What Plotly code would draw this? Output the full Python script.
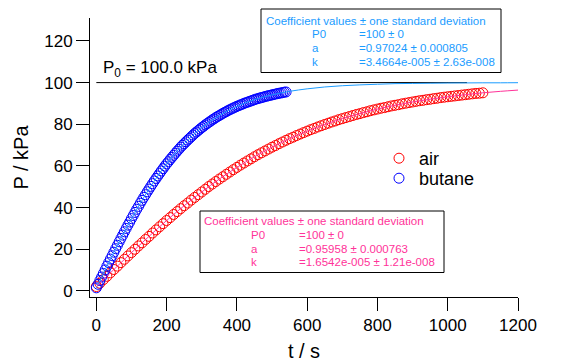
import plotly.graph_objects as go

# ---------------- data ----------------
air_t = [0, 10, 20, 30, 40, 50, 60, 70, 80, 90, 100, 110, 120, 130, 140, 150, 160, 170, 180, 190,
         200, 210, 220, 230, 240, 250, 260, 270, 280, 290, 300, 310, 320, 330, 340, 350, 360, 370, 380, 390,
         400, 410, 420, 430, 440, 450, 460, 470, 480, 490, 500, 510, 520, 530, 540, 550, 560, 570, 580, 590,
         600, 610, 620, 630, 640, 650, 660, 670, 680, 690, 700, 710, 720, 730, 740, 750, 760, 770, 780, 790,
         800, 810, 820, 830, 840, 850, 860, 870, 880, 890, 900, 910, 920, 930, 940, 950, 960, 970, 980, 990,
         1000, 1010, 1020, 1030, 1040, 1050, 1060, 1070, 1080, 1090, 1100]
air_p = [2.1, 3.7, 5.4, 7.0, 8.7, 10.3, 11.9, 13.6, 15.2, 16.8,
         18.4, 20.0, 21.6, 23.1, 24.7, 26.2, 27.8, 29.3, 30.8, 32.3,
         33.8, 35.2, 36.7, 38.1, 39.5, 40.9, 42.2, 43.6, 44.9, 46.2,
         47.5, 48.8, 50.1, 51.3, 52.5, 53.7, 54.8, 56.0, 57.1, 58.2,
         59.3, 60.4, 61.4, 62.4, 63.4, 64.4, 65.4, 66.3, 67.2, 68.1,
         69.0, 69.8, 70.7, 71.5, 72.3, 73.1, 73.8, 74.6, 75.3, 76.0,
         76.7, 77.4, 78.0, 78.7, 79.3, 79.9, 80.5, 81.1, 81.6, 82.2,
         82.7, 83.2, 83.7, 84.2, 84.7, 85.1, 85.6, 86.0, 86.5, 86.9,
         87.3, 87.7, 88.0, 88.4, 88.8, 89.1, 89.4, 89.8, 90.1, 90.4,
         90.7, 91.0, 91.3, 91.5, 91.8, 92.0, 92.3, 92.5, 92.8, 93.0,
         93.2, 93.4, 93.6, 93.8, 94.0, 94.2, 94.4, 94.6, 94.8, 94.9, 95.1]

butane_t = [0, 5, 10, 15, 20, 25, 30, 35, 40, 45, 50, 55, 60, 65, 70, 75, 80, 85, 90, 95,
            100, 105, 110, 115, 120, 125, 130, 135, 140, 145, 150, 155, 160, 165, 170, 175, 180, 185, 190, 195,
            200, 205, 210, 215, 220, 225, 230, 235, 240, 245, 250, 255, 260, 265, 270, 275, 280, 285, 290, 295,
            300, 305, 310, 315, 320, 325, 330, 335, 340, 345, 350, 355, 360, 365, 370, 375, 380, 385, 390, 395,
            400, 405, 410, 415, 420, 425, 430, 435, 440, 445, 450, 455, 460, 465, 470, 475, 480, 485, 490, 495,
            500, 505, 510, 515, 520, 525, 530, 535, 540]
butane_p = [1.5, 3.2, 5.0, 6.7, 8.4, 10.1, 11.9, 13.6, 15.3, 16.9,
            18.6, 20.3, 21.9, 23.6, 25.2, 26.8, 28.4, 30.0, 31.6, 33.1,
            34.7, 36.2, 37.7, 39.2, 40.6, 42.1, 43.5, 44.9, 46.2, 47.6,
            48.9, 50.2, 51.5, 52.8, 54.0, 55.2, 56.4, 57.6, 58.7, 59.9,
            61.0, 62.0, 63.1, 64.1, 65.1, 66.1, 67.1, 68.0, 69.0, 69.9,
            70.7, 71.6, 72.4, 73.2, 74.0, 74.8, 75.6, 76.3, 77.0, 77.7,
            78.4, 79.0, 79.7, 80.3, 80.9, 81.5, 82.1, 82.6, 83.2, 83.7,
            84.2, 84.7, 85.2, 85.7, 86.1, 86.6, 87.0, 87.4, 87.8, 88.2,
            88.6, 88.9, 89.3, 89.6, 90.0, 90.3, 90.6, 90.9, 91.2, 91.5,
            91.8, 92.1, 92.3, 92.6, 92.8, 93.0, 93.3, 93.5, 93.7, 93.9,
            94.1, 94.3, 94.5, 94.7, 94.9, 95.0, 95.2, 95.4, 95.5]

fit_t = [0, 50, 100, 150, 200, 250, 300, 350, 400, 450, 500, 550, 600,
         650, 700, 750, 800, 850, 900, 950, 1000, 1050, 1100, 1150, 1200]
butane_fit = [1.5, 18.6, 34.7, 48.9, 61.0, 70.7, 78.4, 84.2, 88.6, 91.8, 94.1, 95.8, 97.0,
              97.9, 98.5, 98.9, 99.2, 99.5, 99.6, 99.7, 99.8, 99.85, 99.9, 99.9, 99.95]
air_fit = [2.1, 10.3, 18.4, 26.2, 33.8, 40.9, 47.5, 53.7, 59.3, 64.4, 69.0, 73.1, 76.7,
           79.9, 82.7, 85.1, 87.3, 89.1, 90.7, 92.0, 93.2, 94.2, 95.1, 95.8, 96.4]

p0_line_t = [0, 1055]
p0_line_p = [100, 100]

x_ticks = [0, 200, 400, 600, 800, 1000, 1200]
y_ticks = [0, 20, 40, 60, 80, 100, 120]

butane_box = ["Coefficient values ± one standard deviation",
              ["P0", "a", "k"],
              ["=100 ± 0", "=0.97024 ± 0.000805", "=3.4664e-005 ± 2.63e-008"]]
air_box = ["Coefficient values ± one standard deviation",
           ["P0", "a", "k"],
           ["=100 ± 0", "=0.95958 ± 0.000763", "=1.6542e-005 ± 1.21e-008"]]

# ---------------- styling ----------------
FONT = "Liberation Sans, Arial, sans-serif"
W, H = 565, 364
L, R, T, B = 90, 518, 18, 297      # plot-area pixel edges
BLUE_FIT = "#1a9cff"
PINK = "#ff3399"


def px(x):
    return (x - L) / (R - L)


def py(y):
    return (B - y) / (B - T)


fig = go.Figure()
fig.add_trace(go.Scatter(x=air_t, y=air_p, mode="markers", name="air", legend="legend",
                         marker=dict(symbol="circle-open", size=10, color="#ff0000",
                                     line=dict(width=1, color="#ff0000"))))
fig.add_trace(go.Scatter(x=butane_t, y=butane_p, mode="markers", name="butane", legend="legend2",
                         marker=dict(symbol="circle-open", size=10, color="#0000ff",
                                     line=dict(width=1, color="#0000ff"))))
fig.add_trace(go.Scatter(x=p0_line_t, y=p0_line_p, mode="lines", showlegend=False,
                         line=dict(color="black", width=1)))
fig.add_trace(go.Scatter(x=fit_t, y=butane_fit, mode="lines", showlegend=False,
                         line=dict(color=BLUE_FIT, width=1, shape="spline")))
fig.add_trace(go.Scatter(x=fit_t, y=air_fit, mode="lines", showlegend=False,
                         line=dict(color=PINK, width=1, shape="spline")))

shapes = []
annotations = []


def add_box(x0, y0, x1, y1, content, color, tx, lx, vx, ty, dy):
    shapes.append(dict(type="rect", xref="paper", yref="paper",
                       x0=px(x0), x1=px(x1), y0=py(y1), y1=py(y0),
                       line=dict(color="black", width=1), fillcolor="white", layer="above"))
    f = dict(family=FONT, size=11.5, color=color)
    annotations.append(dict(xref="paper", yref="paper", x=px(tx), y=py(ty), text=content[0],
                            showarrow=False, xanchor="left", yanchor="middle", font=f))
    for i, (lab, val) in enumerate(zip(content[1], content[2])):
        yy = ty + dy * (i + 1)
        annotations.append(dict(xref="paper", yref="paper", x=px(lx), y=py(yy), text=lab,
                                showarrow=False, xanchor="left", yanchor="middle", font=f))
        annotations.append(dict(xref="paper", yref="paper", x=px(vx), y=py(yy), text=val,
                                showarrow=False, xanchor="left", yanchor="middle", font=f))


add_box(261, 9, 501, 72.5, butane_box, BLUE_FIT, 264, 310, 357, 20.5, 13.8)
add_box(200, 211, 444, 272.5, air_box, PINK, 202, 249, 297, 221.5, 13.5)

annotations.append(dict(xref="paper", yref="paper", x=px(101), y=py(69),
                        text="P<sub>0</sub> = 100.0 kPa", showarrow=False,
                        xanchor="left", yanchor="middle",
                        font=dict(family=FONT, size=17, color="black")))

leg_font = dict(family=FONT, size=18, color="black")
fig.update_layout(
    width=W, height=H,
    margin=dict(l=L, r=W - R, t=T, b=H - B, pad=0, autoexpand=False),
    paper_bgcolor="white", plot_bgcolor="white",
    font=dict(family=FONT, size=17, color="black"),
    showlegend=True,
    legend=dict(x=px(379), y=py(140), xanchor="left", yanchor="top",
                bgcolor="rgba(0,0,0,0)", font=leg_font),
    legend2=dict(x=px(379), y=py(160), xanchor="left", yanchor="top",
                 bgcolor="rgba(0,0,0,0)", font=leg_font),
    shapes=shapes, annotations=annotations,
)
fig.update_xaxes(range=[-18, 1200], tickvals=x_ticks, ticks="outside", ticklen=13,
                 tickwidth=1, tickcolor="black", showline=True, linecolor="black", linewidth=1,
                 showgrid=False, zeroline=False, automargin=False,
                 title=dict(text="t / s", standoff=9),
                 tickfont=dict(family=FONT, size=17))
fig.update_yaxes(range=[-2.9, 131], tickvals=y_ticks, ticks="outside", ticklen=13,
                 tickwidth=1, tickcolor="black", showline=True, linecolor="black", linewidth=1,
                 showgrid=False, zeroline=False, automargin=False,
                 title=dict(text="P / kPa", standoff=10),
                 tickfont=dict(family=FONT, size=17))

fig.write_html("out.html", config={"displayModeBar": False},
               post_script="document.body.style.margin='0';document.body.style.padding='0';")
